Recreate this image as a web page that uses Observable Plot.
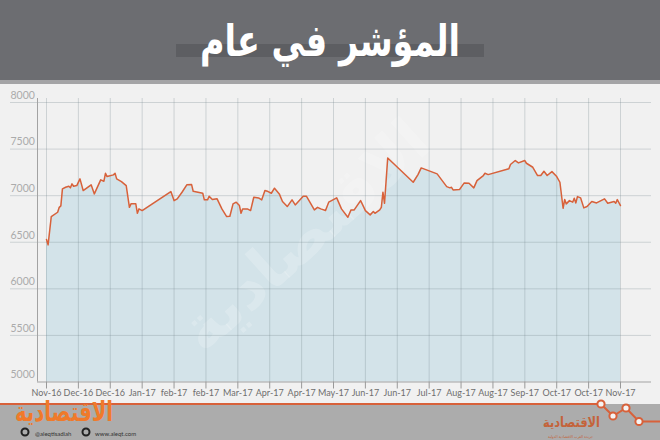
<!DOCTYPE html>
<html><head><meta charset="utf-8">
<script src="https://cdn.jsdelivr.net/npm/d3@7"></script>
<script src="https://cdn.jsdelivr.net/npm/@observablehq/plot@0.6"></script>
<style>
html,body{margin:0;padding:0;background:#f1f1f1;}
#page{position:relative;width:660px;height:440px;overflow:hidden;background:#f1f1f1;}
#header{position:absolute;left:0;top:0;width:660px;height:80px;background:#6c6d71;border-bottom:4px solid #a4a4a6;}
#bar{position:absolute;left:176px;top:44px;width:308px;height:13px;background:#5d5e62;}
#title{position:absolute;left:0;top:16px;width:660px;text-align:center;color:#fff;font:bold 44px "DejaVu Sans";direction:rtl;line-height:50px;transform:scaleX(0.76);transform-origin:330px 0;}
#chart{position:absolute;left:0;top:84px;}
#footer{position:absolute;left:0;top:404px;width:660px;height:36px;background:#acacac;}
#deco{position:absolute;left:0;top:0;}
</style></head><body>
<div id="page">
 <div id="header"><div id="bar"></div><div id="title">المؤشر في عام</div></div>
 <div id="chart"></div>
 <div id="footer"></div>
 <svg id="deco" width="660" height="440" font-family="DejaVu Sans">
  <line x1="0" y1="404" x2="601" y2="404" stroke="#d8613a" stroke-width="2"/>
  <polyline points="601,404 613,416 626,408 639,421.5 660,421.5" fill="none" stroke="#d8613a" stroke-width="2"/>
  <circle cx="601" cy="404" r="3.6" fill="#f4f4f4" stroke="#d8613a" stroke-width="2"/>
  <circle cx="613" cy="416" r="3.6" fill="#f4f4f4" stroke="#d8613a" stroke-width="2"/>
  <circle cx="626" cy="408" r="3.6" fill="#f4f4f4" stroke="#d8613a" stroke-width="2"/>
  <circle cx="639" cy="421.5" r="3.6" fill="#f4f4f4" stroke="#d8613a" stroke-width="2"/>
  <circle cx="25" cy="432" r="3.5" fill="none" stroke="#222" stroke-width="2"/>
  <circle cx="86" cy="432" r="3.5" fill="none" stroke="#222" stroke-width="2"/>
  <text x="15" y="421" font-size="27" font-weight="bold" fill="#f07a2a" textLength="98" lengthAdjust="spacingAndGlyphs" direction="rtl" text-anchor="end">الاقتصادية</text>
  <text x="35" y="436" font-size="6" fill="#333" font-family="Lato">@aleqtisadiah</text>
  <text x="95" y="436" font-size="6" fill="#333" font-family="Lato">www.aleqt.com</text>
  <text x="543" y="427" font-size="14" font-weight="bold" fill="#c4633a" textLength="57" lengthAdjust="spacingAndGlyphs" direction="rtl" text-anchor="end">الاقتصادية</text>
  <text x="548" y="438" font-size="4" fill="#c4633a" textLength="45" lengthAdjust="spacingAndGlyphs" direction="rtl" text-anchor="end">جريدة العرب الاقتصادية الدولية</text>
 </svg>
</div>
<script>
// Data (Saudi index, Nov 2016 - Nov 2017)
const startDate = "2016-11-15";
const dayOffsets = [0,1,3,7,8,9,10,12,14,15,16,17,19,21,23,28,30,34,36,37,38,42,43,44,47,50,52,53,56,57,58,60,78,80,82,85,88,91,92,95,98,99,101,102,104,107,110,113,115,117,119,121,122,123,126,128,130,133,135,137,139,141,143,146,148,151,154,156,161,163,168,170,172,175,177,182,185,189,191,193,197,198,200,203,205,206,209,210,211,212,214,230,233,235,245,251,253,254,255,259,262,265,268,270,274,275,277,290,291,294,296,300,301,305,308,310,312,314,317,320,322,324,325,326,328,330,331,332,333,335,337,339,342,345,350,352,356,357,358,360];
const values = [6529,6472,6776,6822,6875,6890,7073,7090,7101,7084,7127,7101,7108,7180,7055,7116,7019,7170,7155,7240,7205,7223,7240,7180,7151,7108,6875,6912,6912,6811,6858,6840,7044,6947,6966,7037,7116,7119,7047,7037,7026,6955,6955,6994,6958,6966,6858,6776,6779,6912,6930,6894,6811,6858,6858,6840,6983,6976,6955,7055,7044,7026,7080,7019,6937,6883,6955,6901,6994,6994,6847,6875,6858,6840,6930,6976,6858,6768,6847,6847,6947,6912,6840,6794,6829,6811,6847,6875,7037,6918,7405,7144,7226,7298,7234,7097,7084,7090,7062,7065,7137,7133,7084,7162,7216,7240,7226,7288,7334,7377,7352,7377,7348,7305,7216,7216,7262,7216,7258,7205,7144,6865,6958,6912,6947,6930,6973,6922,6990,6976,6869,6883,6937,6922,6966,6918,6937,6918,6958,6894];
const tickLabels = ["Nov-16","Dec-16","Dec-16","Jan-17","feb-17","feb-17","Mar-17","Apr-17","Apr-17","May-17","Jun-17","Jun-17","Jul-17","Aug-17","Aug-17","Sep-17","Oct-17","Oct-17","Nov-17"];
const tickStepDays = 20;
const yTicks = [5000,5500,6000,6500,7000,7500,8000];
const yDomain = [5000,8000];
const watermark = "الاقتصادية";

const t0 = d3.utcParse("%Y-%m-%d")(startDate);
const data = dayOffsets.map((d,i)=>({date: d3.utcDay.offset(t0,d), value: values[i]}));
const tickDates = tickLabels.map((_,i)=>d3.utcDay.offset(t0, i*tickStepDays));
const xDomain = [tickDates[0], tickDates[tickDates.length-1]];

const chart = Plot.plot({
  width:660, height:320, marginLeft:37, marginRight:9, marginTop:14, marginBottom:22.5,
  style:{background:"transparent", fontFamily:"Lato, sans-serif", overflow:"visible"},
  x:{type:"utc", domain:xDomain, insetLeft:9, insetRight:31, axis:null},
  y:{domain:yDomain, insetTop:4, axis:null},
  marks:[
    Plot.areaY(data, {x:"date", y1:yDomain[0], y2:"value", fill:"#d3e3e9"}),
    Plot.text([watermark], {frameAnchor:"middle", rotate:-42, fontSize:62, fontWeight:"bold", fontFamily:"DejaVu Sans", fill:"#ffffff", fillOpacity:0.2, dx:-39, dy:-4}),
    Plot.ruleY(yTicks.filter(v=>v>yDomain[0]), {y:d=>d, stroke:"#6f8088", strokeOpacity:0.28, insetLeft:-27}),
    Plot.ruleX(tickDates, {x:d=>d, stroke:"#6f8088", strokeOpacity:0.28}),
    Plot.ruleY([yDomain[0]], {y:d=>d, stroke:"#a3a3a3"}),
    Plot.ruleX([xDomain[0]], {x:d=>d, dx:-9, stroke:"#a3a3a3"}),
    Plot.ruleX(tickDates, {x:d=>d, y1:yDomain[0], y2:yDomain[0], insetBottom:-7, stroke:"#999"}),
    Plot.text(yTicks, {y:d=>d, text:d=>String(d), frameAnchor:"left", textAnchor:"start", dx:-27, dy:-7, fill:"#ababab", fontSize:10.5}),
    Plot.text(tickDates, {x:d=>d, text:(d,i)=>tickLabels[i], frameAnchor:"bottom", dy:13.5, fill:"#6e6e6e", fontSize:9}),
    Plot.lineY(data, {x:"date", y:"value", stroke:"#d8613a", strokeWidth:1.5})
  ]
});
document.getElementById("chart").appendChild(chart);
</script>
</body></html>
